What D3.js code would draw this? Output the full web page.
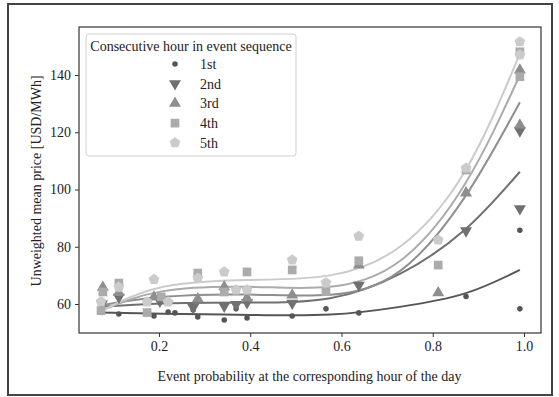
<!DOCTYPE html>
<html lang="en">
<head>
<meta charset="UTF-8" />
<title>Event price chart</title>
<script src="https://cdn.jsdelivr.net/npm/d3@7"></script>
<style>
  body { margin: 0; background: #fff; }
  svg text { font-family: "Liberation Serif", "DejaVu Serif", serif; fill: #222; }
</style>
</head>
<body>
<svg id="chart" width="559" height="397"></svg>
<script>
// series names and tick labels
var seriesNames = ["1st", "2nd", "3rd", "4th", "5th"];
var xTicks = [0.2, 0.4, 0.6, 0.8, 1.0];
var yTicks = [60, 80, 100, 120, 140];

// scatter points, [probability, price]
var first = [[0.075, 57.0], [0.112, 56.5], [0.189, 55.8], [0.220, 57.2], [0.235, 56.9], [0.275, 57.9],
  [0.285, 55.5], [0.343, 54.4], [0.369, 58.3], [0.393, 55.1], [0.492, 55.8], [0.566, 58.3],
  [0.638, 56.9], [0.873, 62.6], [0.991, 85.8], [0.991, 58.3]];
var second = [[0.075, 60.0], [0.112, 62.4], [0.202, 61.0], [0.275, 58.8], [0.343, 59.3], [0.369, 59.8],
  [0.393, 60.5], [0.492, 60.3], [0.638, 66.6], [0.873, 85.6], [0.991, 120.5], [0.991, 93.3]];
var third = [[0.077, 65.8], [0.112, 64.0], [0.189, 62.4], [0.285, 61.8], [0.343, 66.0], [0.393, 62.1],
  [0.492, 63.1], [0.638, 73.6], [0.812, 63.9], [0.873, 98.8], [0.991, 141.7], [0.991, 122.5]];
var fourth = [[0.077, 64.2], [0.073, 57.7], [0.112, 67.3], [0.174, 57.0], [0.205, 62.5], [0.285, 70.8],
  [0.343, 64.2], [0.393, 71.2], [0.492, 71.9], [0.566, 64.3], [0.638, 75.1], [0.812, 73.6],
  [0.873, 106.8], [0.991, 148.1], [0.991, 139.4]];
var fifth = [[0.073, 60.8], [0.112, 65.9], [0.174, 60.7], [0.189, 68.6], [0.220, 60.7], [0.285, 69.0],
  [0.343, 71.2], [0.369, 64.9], [0.393, 64.9], [0.492, 75.4], [0.566, 67.4], [0.638, 83.7],
  [0.812, 82.4], [0.873, 107.5], [0.991, 151.6], [0.991, 147.0]];

// fitted trend lines
var fit1 = [[0.071, 57.0], [0.209, 56.6], [0.399, 56.2], [0.575, 56.3], [0.728, 59.0],
  [0.871, 63.7], [0.991, 71.9]];
var fit2 = [[0.071, 59.0], [0.209, 60.2], [0.399, 60.5], [0.575, 62.0], [0.728, 70.5],
  [0.871, 86.0], [0.991, 106.2]];
var fit3 = [[0.071, 59.5], [0.209, 62.5], [0.399, 63.3], [0.575, 63.2], [0.728, 71.5],
  [0.871, 97.5], [0.991, 130.5]];
var fit4 = [[0.071, 57.5], [0.209, 64.5], [0.399, 66.0], [0.575, 66.0], [0.728, 75.0],
  [0.871, 102.0], [0.991, 140.0]];
var fit5 = [[0.071, 57.3], [0.209, 66.0], [0.399, 68.4], [0.575, 70.0], [0.728, 80.0],
  [0.871, 106.5], [0.991, 147.5]];

var points = [first, second, third, fourth, fifth];
var fits = [fit1, fit2, fit3, fit4, fit5];
var colors = ["#555555", "#707070", "#8e8e8e", "#ababab", "#cbcbcb"];

var svg = d3.select("#chart");
var margin = { left: 79, right: 18, top: 27, bottom: 64 };
var w = 559 - margin.left - margin.right;
var h = 397 - margin.top - margin.bottom;

// outer figure frame
svg.append("rect")
  .attr("x", 8).attr("y", 4).attr("width", 544).attr("height", 391)
  .attr("fill", "none").attr("stroke", "#444").attr("stroke-width", 2);

var g = svg.append("g").attr("transform", "translate(" + margin.left + "," + margin.top + ")");

var x = d3.scaleLinear().domain([0.0247, 1.0373]).range([0, w]);
var y = d3.scaleLinear().domain([49.87, 156.77]).range([h, 0]);

// marker shapes
var pentagon = {
  draw: function (ctx, size) {
    var r = Math.sqrt(size / 2.378);
    for (var i = 0; i < 5; i++) {
      var a = -Math.PI / 2 + i * 2 * Math.PI / 5;
      if (i === 0) ctx.moveTo(r * Math.cos(a), r * Math.sin(a));
      else ctx.lineTo(r * Math.cos(a), r * Math.sin(a));
    }
    ctx.closePath();
  }
};
var shapes = [
  d3.symbol().type(d3.symbolCircle).size(24),
  d3.symbol().type(d3.symbolTriangle).size(62),
  d3.symbol().type(d3.symbolTriangle).size(62),
  d3.symbol().type(d3.symbolSquare).size(76),
  d3.symbol().type(pentagon).size(76)
];
var rotations = [0, 180, 0, 0, 0];

// axes
var xAxis = g.append("g").attr("transform", "translate(0," + h + ")")
  .call(d3.axisBottom(x).tickValues(xTicks).tickFormat(d3.format(".1f")).tickSize(4).tickPadding(4));
var yAxis = g.append("g")
  .call(d3.axisLeft(y).tickValues(yTicks).tickSize(4).tickPadding(4));
[xAxis, yAxis].forEach(function (a) {
  a.attr("font-family", "'Liberation Serif', serif").attr("font-size", 14);
  a.select(".domain").remove();
  a.selectAll("line").attr("stroke", "#333").attr("stroke-width", 1);
  a.selectAll("text").attr("fill", "#222");
});

// trend lines
var line = d3.line()
  .x(function (d) { return x(d[0]); })
  .y(function (d) { return y(d[1]); })
  .curve(d3.curveNatural);

points.forEach(function (pts, i) {
  g.append("path")
    .datum(fits[i])
    .attr("d", line)
    .attr("fill", "none")
    .attr("stroke", colors[i])
    .attr("stroke-width", 2);
});
points.forEach(function (pts, i) {
  g.selectAll(".m" + i)
    .data(pts)
    .enter()
    .append("path")
    .attr("class", "m" + i)
    .attr("d", shapes[i])
    .attr("fill", colors[i])
    .attr("transform", function (d) {
      return "translate(" + x(d[0]) + "," + y(d[1]) + ") rotate(" + rotations[i] + ")";
    });
});

// plot frame
g.append("rect").attr("width", w).attr("height", h)
  .attr("fill", "none").attr("stroke", "#333").attr("stroke-width", 1.2);

// axis titles
svg.append("text")
  .attr("x", margin.left + x(0.53)).attr("y", 381)
  .attr("text-anchor", "middle").style("font-size", "14px")
  .text("Event probability at the corresponding hour of the day");
svg.append("text")
  .attr("transform", "translate(41," + (margin.top + y(103)) + ") rotate(-90)")
  .attr("text-anchor", "middle").style("font-size", "14px")
  .text("Unweighted mean price [USD/MWh]");

// legend
var lg = svg.append("g");
lg.append("rect")
  .attr("x", 86).attr("y", 34).attr("width", 210).attr("height", 122).attr("rx", 3)
  .attr("fill", "#fff").attr("fill-opacity", 0.85)
  .attr("stroke", "#d0d0d0").attr("stroke-width", 1);
lg.append("text").attr("x", 191).attr("y", 51).attr("text-anchor", "middle")
  .style("font-size", "14px").text("Consecutive hour in event sequence");
seriesNames.forEach(function (name, i) {
  var yy = 64 + i * 19.7;
  lg.append("path")
    .attr("d", shapes[i])
    .attr("fill", colors[i])
    .attr("transform", "translate(175," + yy + ") rotate(" + rotations[i] + ")");
  lg.append("text").attr("x", 200).attr("y", yy + 5)
    .style("font-size", "14px").text(name);
});
</script>
</body>
</html>
